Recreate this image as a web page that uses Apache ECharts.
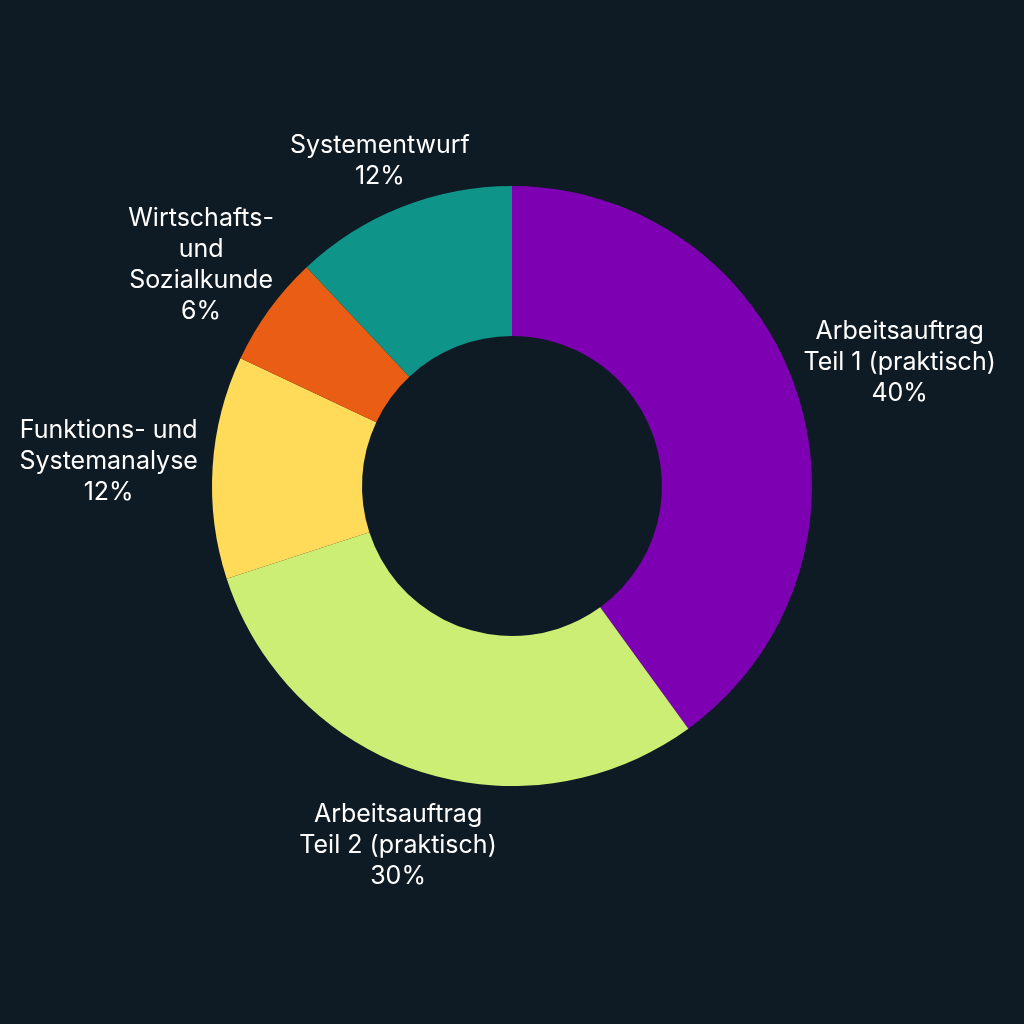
<!DOCTYPE html>
<html>
<head>
<meta charset="utf-8">
<script src="https://cdn.jsdelivr.net/npm/echarts@6/dist/echarts.min.js"></script>
<style>
  html, body { margin: 0; padding: 0; background: #0f1b24; }
  #chart { width: 1024px; height: 1024px; }
</style>
</head>
<body>
<div id="chart"></div>
<script>
// Exam weighting by part
const categories = [
  'Arbeitsauftrag\nTeil 1 (praktisch)',
  'Arbeitsauftrag\nTeil 2 (praktisch)',
  'Funktions- und\nSystemanalyse',
  'Wirtschafts-\nund\nSozialkunde',
  'Systementwurf'
];
const shares = [40, 30, 12, 6, 12];
const colors = ['#7e00b3', '#cdee75', '#ffdb59', '#ea5d14', '#0e9488'];

// Layout of the ring
const CX = 512, CY = 486, R_OUT = 300, R_IN = 150;
const LABEL_GAP = 15;   // space between ring and label box
const LABEL_DROP = 9;   // labels above/below the ring sit slightly lower

// Mid angle of each slice, clockwise from 12 o'clock
const total = shares.reduce((a, b) => a + b, 0);
let acc = 0;
const midAngles = shares.map(v => {
  const m = (acc + v / 2) / total * Math.PI * 2;
  acc += v;
  return m;
});

const chart = echarts.init(document.getElementById('chart'));
chart.setOption({
  backgroundColor: '#0f1b24',
  animation: false,
  series: [{
    type: 'pie',
    center: [CX, CY],
    radius: [R_IN, R_OUT],
    startAngle: 90,
    clockwise: true,
    avoidLabelOverlap: false,
    data: categories.map((name, i) => ({
      name: name,
      value: shares[i],
      itemStyle: { color: colors[i] }
    })),
    label: {
      show: true,
      position: 'outside',
      color: '#ffffff',
      fontFamily: 'Inter',
      fontSize: 25,
      lineHeight: 31,
      formatter: p => p.name + '\n' + p.value + '%'
    },
    labelLine: { show: false, length: 0, length2: 0 },
    emphasis: { disabled: true },
    // Centre each label just outside the ring along its slice's mid angle,
    // pushed out by the label's elliptical half-extent in that direction
    labelLayout: function (params) {
      const a = midAngles[params.dataIndex];
      const dx = Math.sin(a), dy = -Math.cos(a);
      const w = params.labelRect.width, h = params.labelRect.height;
      const ext = Math.hypot(w / 2 * dx, h / 2 * dy);
      const d = R_OUT + LABEL_GAP + ext;
      return {
        x: CX + d * dx,
        y: CY + d * dy + LABEL_DROP * Math.abs(dy),
        align: 'center',
        verticalAlign: 'middle'
      };
    }
  }]
});
</script>
</body>
</html>
